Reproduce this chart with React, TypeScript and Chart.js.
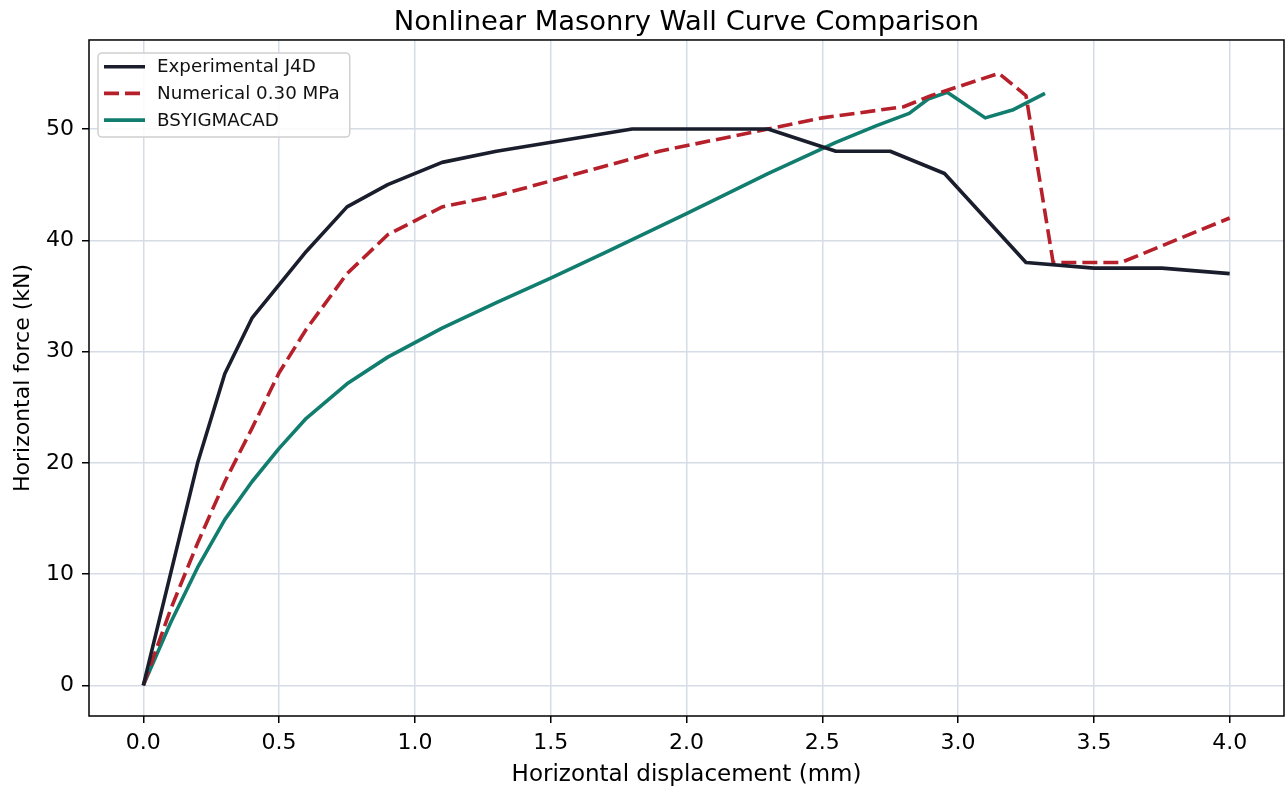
import React, { useEffect, useRef } from 'react';
import { Chart, registerables } from 'chart.js';

Chart.register(...registerables);

// ---- Data ----
const expX = [0, 0.2, 0.3, 0.4, 0.6, 0.75, 0.9, 1.1, 1.3, 1.8, 2.3, 2.55, 2.75, 2.95, 3.25, 3.5, 3.75, 4.0];
const expY = [0, 20, 28, 33, 39, 43, 45, 47, 48, 50, 50, 48, 48, 46, 38, 37.5, 37.5, 37];

const numX = [0, 0.1, 0.2, 0.3, 0.4, 0.5, 0.6, 0.75, 0.9, 1.1, 1.3, 1.9, 2.3, 2.5, 2.8, 2.9, 3.15, 3.25, 3.35, 3.6, 4.0];
const numY = [0, 6.8, 12.8, 18.3, 23.1, 28.1, 32, 37, 40.5, 43, 44, 48, 50, 51, 52, 53, 55, 53, 38, 38, 42];

const bsX = [0, 0.1, 0.2, 0.3, 0.4, 0.5, 0.6, 0.75, 0.9, 1.1, 1.3, 1.5, 1.7, 2.0, 2.3, 2.55, 2.7, 2.82, 2.89, 2.96, 3.1, 3.2, 3.32];
const bsY = [0, 5.6, 10.6, 14.9, 18.3, 21.3, 24.0, 27.1, 29.5, 32.1, 34.4, 36.6, 38.9, 42.4, 46.0, 48.8, 50.3, 51.4, 52.7, 53.3, 51.0, 51.7, 53.2];

const seriesLabels = ['Experimental J4D', 'Numerical 0.30 MPa', 'BSYIGMACAD'];
const xTicks = [0, 0.5, 1, 1.5, 2, 2.5, 3, 3.5, 4];
const yTicks = [0, 10, 20, 30, 40, 50];

const FONT = "'DejaVu Sans', 'Noto Sans', sans-serif";
const COLORS = ['#1a1e2c', '#b5202a', '#117d6f'];

const toPoints = (xs: number[], ys: number[]) => xs.map((x, i) => ({ x, y: ys[i] }));

const framePlugin = {
  id: 'frame',
  afterDatasetsDraw(chart: any) {
    const { ctx, chartArea } = chart;
    ctx.save();
    ctx.strokeStyle = '#000';
    ctx.lineWidth = 1.5;
    ctx.strokeRect(chartArea.left, chartArea.top, chartArea.right - chartArea.left, chartArea.bottom - chartArea.top);
    ctx.restore();
  },
};

const legendPlugin = {
  id: 'insideLegend',
  afterDraw(chart: any) {
    const { ctx, chartArea } = chart;
    const ds = chart.data.datasets;
    ctx.save();
    ctx.font = `18.3px ${FONT}`;
    const padL = 6, sample = 41, gap = 12, padR = 10, rowH = 26.7, padT = 13.7, padB = 17;
    let maxW = 0;
    ds.forEach((d: any) => { maxW = Math.max(maxW, ctx.measureText(d.label).width); });
    const x0 = chartArea.left + 9;
    const y0 = chartArea.top + 13;
    const w = padL + sample + gap + maxW + padR;
    const h = padT + padB + rowH * (ds.length - 1);
    ctx.beginPath();
    ctx.roundRect(x0, y0, w, h, 4);
    ctx.fillStyle = 'rgba(255,255,255,0.85)';
    ctx.fill();
    ctx.strokeStyle = '#d0d0d0';
    ctx.lineWidth = 1.5;
    ctx.stroke();
    ds.forEach((d: any, i: number) => {
      const cy = y0 + padT + i * rowH;
      ctx.beginPath();
      ctx.strokeStyle = d.borderColor;
      ctx.lineWidth = d.borderWidth;
      ctx.setLineDash(d.borderDash || []);
      ctx.lineCap = 'butt';
      ctx.moveTo(x0 + padL, cy);
      ctx.lineTo(x0 + padL + sample, cy);
      ctx.stroke();
      ctx.setLineDash([]);
      ctx.fillStyle = '#111';
      ctx.textBaseline = 'middle';
      ctx.textAlign = 'left';
      ctx.fillText(d.label, x0 + padL + sample + gap, cy + 1);
    });
    ctx.restore();
  },
};

export default function App() {
  const ref = useRef<HTMLCanvasElement | null>(null);

  useEffect(() => {
    document.body.style.margin = '0';
    const canvas = ref.current;
    if (!canvas) return;
    const chart = new Chart(canvas, {
      type: 'line',
      data: {
        datasets: [
          {
            label: seriesLabels[0],
            data: toPoints(expX, expY),
            borderColor: COLORS[0],
            backgroundColor: COLORS[0],
            borderWidth: 3.6,
            pointRadius: 0,
            tension: 0,
            borderJoinStyle: 'round',
          },
          {
            label: seriesLabels[1],
            data: toPoints(numX, numY),
            borderColor: COLORS[1],
            backgroundColor: COLORS[1],
            borderWidth: 3.6,
            borderDash: [15, 6],
            borderCapStyle: 'butt',
            pointRadius: 0,
            tension: 0,
          },
          {
            label: seriesLabels[2],
            data: toPoints(bsX, bsY),
            borderColor: COLORS[2],
            backgroundColor: COLORS[2],
            borderWidth: 3.6,
            pointRadius: 0,
            tension: 0,
            borderJoinStyle: 'round',
          },
        ],
      },
      options: {
        responsive: false,
        animation: false,
        events: [],
        layout: { padding: { left: 0, right: 2, top: 0, bottom: 0 } },
        plugins: {
          legend: { display: false },
          tooltip: { enabled: false },
          title: {
            display: true,
            fullSize: false,
            text: 'Nonlinear Masonry Wall Curve Comparison',
            color: '#000',
            font: { family: FONT, size: 27.4, weight: 'normal' },
            padding: { top: 6.5, bottom: 0.6 },
          },
        },
        scales: {
          x: {
            type: 'linear',
            min: -0.2,
            max: 4.2,
            afterBuildTicks: (axis: any) => { axis.ticks = xTicks.map((v) => ({ value: v })); },
            afterFit: (axis: any) => { axis.height = 76; },
            ticks: {
              color: '#000',
              font: { family: FONT, size: 22 },
              padding: 7,
              maxRotation: 0,
              autoSkip: false,
              callback: (v: any) => Number(v).toFixed(1),
            },
            grid: { color: '#d6dce5', lineWidth: 1.5, tickColor: '#000', tickLength: 7, tickWidth: 1.5 },
            border: { display: false },
            title: {
              display: true,
              text: 'Horizontal displacement (mm)',
              color: '#000',
              font: { family: FONT, size: 23 },
              padding: { top: 0, bottom: 3 },
            },
          },
          y: {
            type: 'linear',
            min: -2.75,
            max: 58.0,
            afterBuildTicks: (axis: any) => { axis.ticks = yTicks.map((v) => ({ value: v })); },
            afterFit: (axis: any) => { axis.width = 89; },
            ticks: {
              color: '#000',
              font: { family: FONT, size: 22 },
              padding: 8,
              autoSkip: false,
              callback: (v: any) => String(v),
            },
            grid: { color: '#d6dce5', lineWidth: 1.5, tickColor: '#000', tickLength: 7, tickWidth: 1.5 },
            border: { display: false },
            title: {
              display: true,
              text: 'Horizontal force (kN)',
              color: '#000',
              font: { family: FONT, size: 22 },
              padding: { top: 10, bottom: 0 },
            },
          },
        },
      } as any,
      plugins: [framePlugin, legendPlugin],
    });
    return () => chart.destroy();
  }, []);

  return (
    <div style={{ position: 'absolute', left: 0, top: 0, width: 1286, height: 792, background: '#fff' }}>
      <canvas ref={ref} width={1286} height={792} style={{ display: 'block' }} />
    </div>
  );
}
